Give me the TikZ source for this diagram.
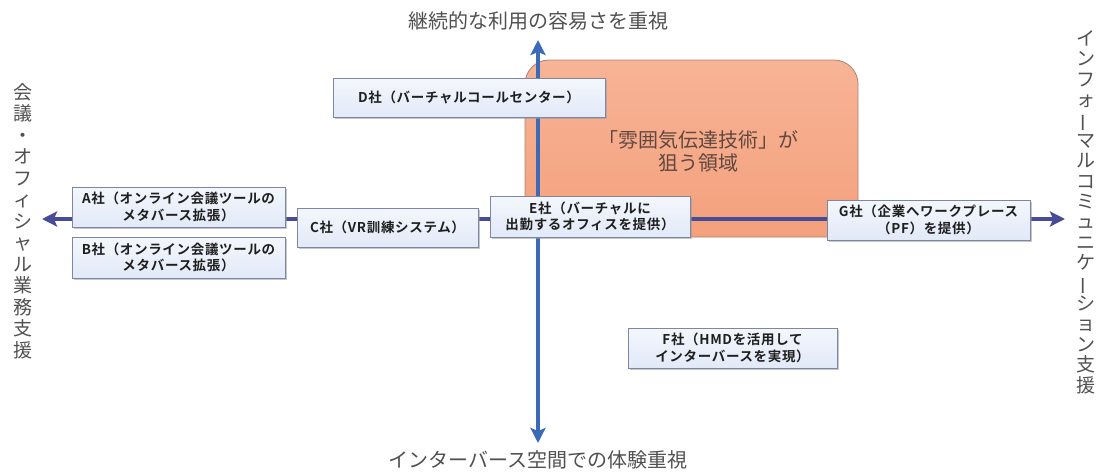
\documentclass[tikz,border=0pt]{standalone}
\usepackage{fontspec}
\setmainfont{Noto Sans CJK JP}[BoldFont={Noto Sans CJK JP Bold}]
\usetikzlibrary{arrows.meta,shadows}
\definecolor{boxblue}{RGB}{226,234,248}
\definecolor{boxline}{RGB}{125,135,165}
\definecolor{haxis}{RGB}{72,76,150}
\definecolor{vaxis}{RGB}{60,106,182}
\definecolor{orangefill}{RGB}{244,160,124}
\definecolor{orangetop}{RGB}{247,180,150}
\definecolor{orangeline}{RGB}{170,130,115}
\definecolor{orangetext}{RGB}{95,72,64}
\definecolor{labelgrey}{RGB}{80,80,80}
\tikzset{
  company/.style={draw=boxline, line width=1pt, top color=white!60!boxblue, bottom color=boxblue,
    drop shadow={shadow xshift=1.5pt, shadow yshift=-1.8pt, fill=black!40, opacity=0.55},
    align=center, inner sep=1pt, text=black!88,
    font=\fontsize{13.5}{16.5}\selectfont\bfseries\addfontfeature{LetterSpace=5}},
  axislabel/.style={text=labelgrey, font=\fontsize{20}{24}\selectfont, inner sep=0pt},
  vlabel/.style={text=labelgrey, align=center, inner sep=0pt, font=\fontsize{19}{21}\selectfont},
  harrow/.style={draw=haxis, line width=4pt, {Stealth[length=15pt,width=15pt,inset=3pt]}-{Stealth[length=15pt,width=15pt,inset=3pt]}},
  varrow/.style={draw=vaxis, line width=4pt, {Stealth[length=15pt,width=15pt,inset=3pt]}-{Stealth[length=15pt,width=15pt,inset=3pt]}},
}
\newcommand{\vbar}{\rotatebox[origin=c]{90}{ー}}
\begin{document}
\begin{tikzpicture}[x=1pt,y=-1pt]
\useasboundingbox (0,0) rectangle (1099,472);
% target region
\draw[draw=orangeline, line width=0.8pt, top color=orangetop, bottom color=orangefill, rounded corners=24pt]
  (525,60) rectangle (858,237);
\node[text=orangetext, align=center, font=\fontsize{20}{23}\selectfont] (target) at (698,151)
  {「雰囲気伝達技術」が\\狙う領域};
% axes
\coordinate (vt) at (538,40);
\coordinate (vb) at (538,443);
\coordinate (hl) at (42,219);
\coordinate (hr) at (1065,219);
\draw[varrow] (vb) -- (vt);
\draw[harrow] (hl) -- (hr);
% axis labels
\node[axislabel] (top) at (538,21) {継続的な利用の容易さを重視};
\node[axislabel] (bottom) at (538,460) {インターバース空間での体験重視};
\node[vlabel, font=\fontsize{19}{21.5}\selectfont] (left) at (23,221) {会\\議\\・\\オ\\フ\\ィ\\シ\\ャ\\ル\\業\\務\\支\\援};
\node[vlabel, font=\fontsize{19}{20.4}\selectfont] (right) at (1086,212) {イ\\ン\\フ\\ォ\\\vbar\\マ\\ル\\コ\\ミ\\ュ\\ニ\\ケ\\\vbar\\シ\\ョ\\ン\\支\\援};
% companies
\node[company, minimum width=213pt, minimum height=40pt] (A) at (178.5,207) {A社（オンライン会議ツールの\\メタバース拡張）};
\node[company, minimum width=213pt, minimum height=41pt] (B) at (178.5,257.5) {B社（オンライン会議ツールの\\メタバース拡張）};
\node[company, minimum width=181pt, minimum height=39pt] (C) at (387.5,227.5) {C社（VR訓練システム）};
\node[company, minimum width=272pt, minimum height=39pt] (D) at (469,97.5) {D社（バーチャルコールセンター）};
\node[company, minimum width=200pt, minimum height=41pt] (E) at (590,216.5) {E社（バーチャルに\\出勤するオフィスを提供）};
\node[company, minimum width=203pt, minimum height=40pt] (G) at (928.5,220) {G社（企業へワークプレース\\（PF）を提供）};
\node[company, minimum width=209pt, minimum height=40pt] (F) at (732.5,348) {F社（HMDを活用して\\インターバースを実現）};
\end{tikzpicture}
\end{document}
